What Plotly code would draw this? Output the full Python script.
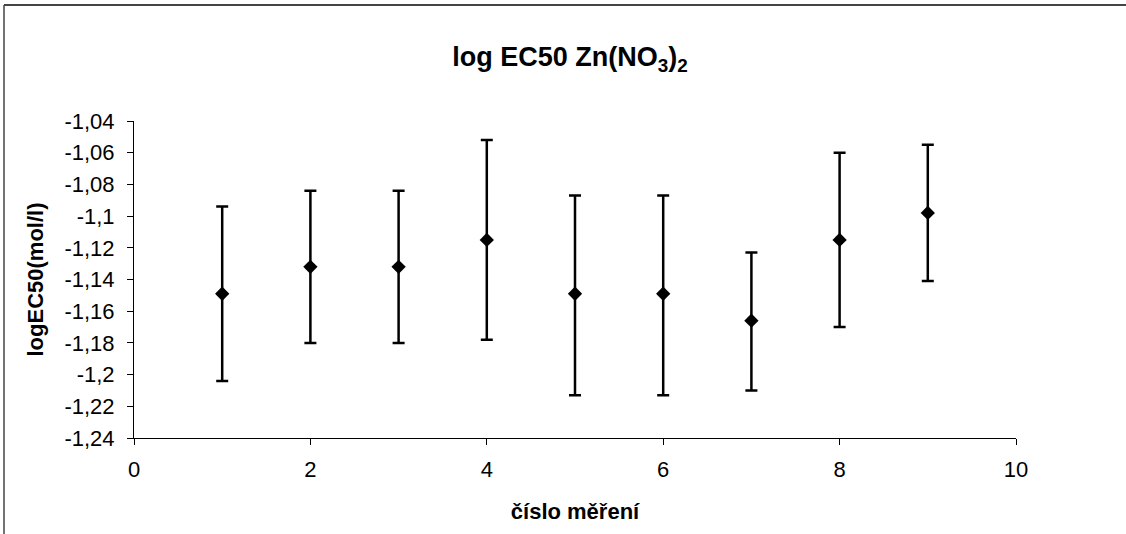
import plotly.graph_objects as go

# Data
measurement = [1, 2, 3, 4, 5, 6, 7, 8, 9]
log_ec50 = [-1.149, -1.132, -1.132, -1.115, -1.149, -1.149, -1.166, -1.115, -1.098]
err_plus = [0.055, 0.048, 0.048, 0.063, 0.062, 0.062, 0.043, 0.055, 0.043]
err_minus = [0.055, 0.048, 0.048, 0.063, 0.064, 0.064, 0.044, 0.055, 0.043]
y_tickvals = [-1.04, -1.06, -1.08, -1.10, -1.12, -1.14, -1.16, -1.18, -1.20, -1.22, -1.24]
y_ticktext = ["-1,04", "-1,06", "-1,08", "-1,1", "-1,12", "-1,14", "-1,16", "-1,18", "-1,2", "-1,22", "-1,24"]
x_tickvals = [0, 2, 4, 6, 8, 10]

FONT = "Liberation Sans, Arial, sans-serif"
W, H = 1126, 534
ML, MR, MT, MB = 134, 110, 121, 96
pw, ph = W - ML - MR, H - MT - MB

fig = go.Figure()
fig.add_trace(go.Scatter(
    x=measurement, y=log_ec50, mode="markers",
    marker=dict(symbol="diamond", size=11, color="black"),
    error_y=dict(type="data", symmetric=False, array=err_plus, arrayminus=err_minus,
                 color="black", thickness=2.5, width=6),
    showlegend=False,
))

def px_x(p):
    return (p - ML) / pw

def px_y(p):
    return (H - MB - p) / ph

fig.update_layout(
    width=W, height=H,
    margin=dict(l=ML, r=MR, t=MT, b=MB),
    paper_bgcolor="white", plot_bgcolor="white",
    font=dict(family=FONT, color="black"),
    title=dict(text="<b>log EC50 Zn(NO<sub>3</sub>)<sub>2</sub></b>",
               x=570 / W, xanchor="center", y=1 - 57 / H, yanchor="middle",
               yref="container", xref="container",
               font=dict(size=27, family=FONT, color="black")),
    xaxis=dict(range=[0, 10], tickvals=x_tickvals, showgrid=False, zeroline=False,
               showline=True, linecolor="black", linewidth=1,
               ticks="outside", ticklen=6, tickcolor="black",
               ticklabelstandoff=6,
               tickfont=dict(size=22, family=FONT),
               title=dict(text="<b>číslo měření</b>", font=dict(size=22, family=FONT), standoff=22)),
    yaxis=dict(range=[-1.24, -1.04], tickvals=y_tickvals, ticktext=y_ticktext,
               showgrid=False, zeroline=False,
               showline=True, linecolor="black", linewidth=1,
               ticks="outside", ticklen=6, tickcolor="black",
               ticklabelstandoff=8,
               tickfont=dict(size=22, family=FONT),
               title=dict(text="<b>logEC50(mol/l)</b>", font=dict(size=22, family=FONT), standoff=14)),
    shapes=[
        dict(type="line", xref="paper", yref="paper",
             x0=px_x(4), x1=px_x(1126), y0=px_y(5), y1=px_y(5),
             line=dict(color="#444444", width=2)),
        dict(type="line", xref="paper", yref="paper",
             x0=px_x(4), x1=px_x(4), y0=px_y(5), y1=px_y(534),
             line=dict(color="#444444", width=1.5)),
    ],
)

fig.write_html("out.html")
